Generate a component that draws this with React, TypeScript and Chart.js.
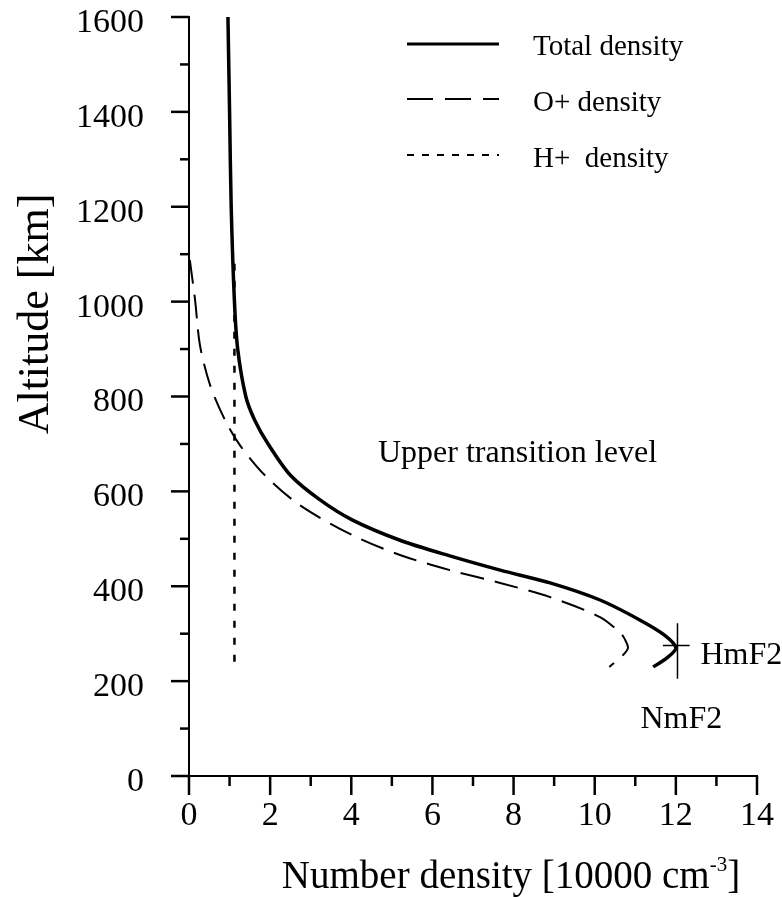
import React, { useEffect, useRef } from 'react';
import { Chart, registerables } from 'chart.js';

Chart.register(...registerables);

// ---- data (altitude in km, density in 10000 cm^-3) ----
const totalAltitude = [1600, 1400, 1200, 1000, 900, 800, 750, 700, 634, 582, 540, 497, 464, 434, 407, 371, 329, 297, 270, 249, 230];
const totalDensity = [0.96, 1.0, 1.04, 1.12, 1.2, 1.4, 1.62, 1.95, 2.5, 3.23, 4.02, 5.2, 6.43, 7.67, 8.9, 10.13, 11.11, 11.72, 12.0, 11.78, 11.44];

const oxygenAltitude = [1088, 1003, 908, 824, 750, 698, 634, 571, 508, 466, 434, 407, 377, 335, 300, 287, 270, 255, 230];
const oxygenDensity = [0.02, 0.15, 0.27, 0.52, 0.89, 1.25, 1.87, 2.73, 4.02, 5.2, 6.43, 7.67, 8.9, 10.13, 10.65, 10.75, 10.82, 10.7, 10.36];

const hydrogenAltitude = [1080, 230];
const hydrogenDensity = [1.12, 1.12];

const seriesLabels = ['Total density', 'O+ density', 'H+  density'];

const xTickStep = 2;
const yTickStep = 200;

// peak marker (NmF2 / HmF2)
const peakDensity = 12.04;
const peakAltitude = 275;

const FONT = "'Liberation Serif', 'Times New Roman', serif";

const toPoints = (xs: number[], ys: number[]) => xs.map((x, i) => ({ x, y: ys[i] }));

const decorPlugin = {
  id: 'decor',
  afterDraw(chart: any) {
    const { ctx, chartArea } = chart;
    const xs = chart.scales.x;
    const ys = chart.scales.y;
    ctx.save();
    ctx.strokeStyle = '#000';
    ctx.fillStyle = '#000';
    ctx.lineCap = 'butt';

    // axis ticks (major + minor), outside
    ctx.lineWidth = 2.5;
    for (let v = 0; v <= 14; v += 1) {
      const px = xs.getPixelForValue(v);
      const len = v % 2 === 0 ? 19 : 10;
      ctx.beginPath();
      ctx.moveTo(px, chartArea.bottom);
      ctx.lineTo(px, chartArea.bottom + len);
      ctx.stroke();
    }
    for (let v = 0; v <= 1600; v += 100) {
      const py = ys.getPixelForValue(v);
      const len = v % 200 === 0 ? 18 : 9;
      ctx.beginPath();
      ctx.moveTo(chartArea.left, py);
      ctx.lineTo(chartArea.left - len, py);
      ctx.stroke();
    }

    // legend
    const legendX0 = 407;
    const legendX1 = 499;
    const textX = 533;
    const rows = [
      { y: 44, dash: [] as number[], w: 3, base: 55 },
      { y: 99, dash: [26, 12], w: 2, base: 111 },
      { y: 155, dash: [7, 8], w: 2, base: 167 },
    ];
    ctx.font = `29px ${FONT}`;
    ctx.textAlign = 'left';
    ctx.textBaseline = 'alphabetic';
    rows.forEach((r, i) => {
      ctx.setLineDash(r.dash);
      ctx.lineWidth = r.w;
      ctx.beginPath();
      ctx.moveTo(legendX0, r.y);
      ctx.lineTo(legendX1, r.y);
      ctx.stroke();
      ctx.setLineDash([]);
      ctx.fillText(seriesLabels[i], textX, r.base);
    });

    // peak cross marker
    const cx = xs.getPixelForValue(peakDensity);
    const cy = ys.getPixelForValue(peakAltitude);
    ctx.lineWidth = 1.5;
    ctx.beginPath();
    ctx.moveTo(cx, ys.getPixelForValue(peakAltitude + 47));
    ctx.lineTo(cx, ys.getPixelForValue(peakAltitude - 70));
    ctx.moveTo(xs.getPixelForValue(peakDensity - 0.36), cy);
    ctx.lineTo(xs.getPixelForValue(peakDensity + 0.3), cy);
    ctx.stroke();

    // annotations
    ctx.font = `32px ${FONT}`;
    ctx.fillText('HmF2', cx + 23, cy + 18);
    ctx.fillText('NmF2', cx - 37, cy + 82);
    ctx.fillText('Upper transition level', 378, 462);

    // x-axis title with superscript
    const base = 888;
    const part1 = 'Number density [10000 cm';
    const sup = '-3';
    const part2 = ']';
    ctx.font = `39px ${FONT}`;
    const w1 = ctx.measureText(part1).width;
    const w3 = ctx.measureText(part2).width;
    ctx.font = `21px ${FONT}`;
    const w2 = ctx.measureText(sup).width;
    const total = w1 + w2 + w3;
    let sx = 511 - total / 2;
    ctx.font = `39px ${FONT}`;
    ctx.fillText(part1, sx, base);
    sx += w1;
    ctx.font = `21px ${FONT}`;
    ctx.fillText(sup, sx, base - 17);
    sx += w2;
    ctx.font = `39px ${FONT}`;
    ctx.fillText(part2, sx, base);

    // y-axis title
    ctx.save();
    ctx.translate(48, 314);
    ctx.rotate(-Math.PI / 2);
    ctx.textAlign = 'center';
    ctx.font = `44px ${FONT}`;
    ctx.fillText('Altitude [km]', 0, 0);
    ctx.restore();

    ctx.restore();
  },
};

export default function App() {
  const ref = useRef<HTMLCanvasElement>(null);
  useEffect(() => {
    const chart = new Chart(ref.current as HTMLCanvasElement, {
      type: 'scatter',
      data: {
        datasets: [
          {
            label: seriesLabels[0],
            data: toPoints(totalDensity, totalAltitude),
            showLine: true,
            borderColor: '#000',
            backgroundColor: '#000',
            borderWidth: 3.5,
            pointRadius: 0,
            tension: 0.3,
          },
          {
            label: seriesLabels[1],
            data: toPoints(oxygenDensity, oxygenAltitude),
            showLine: true,
            borderColor: '#000',
            backgroundColor: '#000',
            borderWidth: 2,
            borderDash: [24, 11],
            pointRadius: 0,
            tension: 0.3,
          },
          {
            label: seriesLabels[2],
            data: toPoints(hydrogenDensity, hydrogenAltitude),
            showLine: true,
            borderColor: '#000',
            backgroundColor: '#000',
            borderWidth: 2.5,
            borderDash: [7, 10],
            pointRadius: 0,
            tension: 0,
          },
        ],
      },
      options: {
        responsive: false,
        animation: false,
        layout: { padding: { top: 17, right: 25, left: 0, bottom: 0 } },
        plugins: { legend: { display: false }, tooltip: { enabled: false } },
        scales: {
          x: {
            type: 'linear',
            min: 0,
            max: 14,
            grid: { display: false },
            border: { display: true, color: '#000', width: 2 },
            ticks: {
              stepSize: xTickStep,
              color: '#000',
              font: { family: FONT, size: 34 },
              padding: 12,
              maxRotation: 0,
              callback: (v: any) => String(v),
            },
            afterFit(s: any) {
              s.height = 121;
              s.paddingLeft = 0;
              s.paddingRight = 0;
            },
          },
          y: {
            type: 'linear',
            min: 0,
            max: 1600,
            grid: { display: false },
            border: { display: true, color: '#000', width: 2 },
            ticks: {
              stepSize: yTickStep,
              color: '#000',
              font: { family: FONT, size: 34 },
              padding: 37,
              labelOffset: 6,
              callback: (v: any) => String(v),
            },
            afterFit(s: any) {
              s.width = 189;
              s.paddingTop = 0;
              s.paddingBottom = 0;
            },
          },
        },
      },
      plugins: [decorPlugin],
    } as any);
    return () => chart.destroy();
  }, []);
  return (
    <div style={{ position: 'fixed', left: 0, top: 0, width: 782, height: 897, background: '#fff' }}>
      <canvas ref={ref} width={782} height={897} style={{ display: 'block' }} />
    </div>
  );
}
